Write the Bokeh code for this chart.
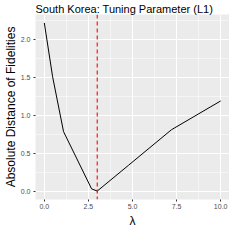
from bokeh.plotting import figure
from bokeh.models import FixedTicker, Span, NumeralTickFormatter, Range1d, Title
from bokeh.embed import file_html
from bokeh.resources import INLINE

lam = [0.0, 0.47, 1.09, 2.68, 3.0, 4.77, 7.21, 10.0]
dist = [2.22, 1.51, 0.785, 0.03, 0.0, 0.34, 0.81, 1.19]
best_lambda = 3.0
x_ticks = [0, 2.5, 5, 7.5, 10]
x_minor = [1.25, 3.75, 6.25, 8.75]
y_ticks = [0, 0.5, 1.0, 1.5, 2.0]
y_minor = [0.25, 0.75, 1.25, 1.75, 2.25]

FONT = "Liberation Sans"

p = figure(frame_width=194, frame_height=185, output_backend="svg", toolbar_location=None,
           x_range=Range1d(-0.5, 10.5), y_range=Range1d(-0.111, 2.331),
           title="South Korea: Tuning Parameter (L1)")
p.min_border_left = 0
p.min_border_right = 0
p.min_border_top = 0
p.min_border_bottom = 0
p.background_fill_color = "#EBEBEB"
p.border_fill_color = "white"
p.outline_line_color = None

p.title.text_font = FONT
p.title.text_font_size = "11px"
p.title.text_font_style = "normal"
p.title.text_color = "#000000"
p.title.offset = 0
p.title.standoff = 0

p.xaxis.ticker = FixedTicker(ticks=x_ticks, minor_ticks=x_minor)
p.yaxis.ticker = FixedTicker(ticks=y_ticks, minor_ticks=y_minor)
p.xaxis.formatter = NumeralTickFormatter(format="0.0")
p.yaxis.formatter = NumeralTickFormatter(format="0.0")
for ax in (p.xaxis, p.yaxis):
    ax.axis_line_color = None
    ax.major_tick_line_color = "#333333"
    ax.major_tick_out = 2
    ax.major_tick_in = 0
    ax.minor_tick_line_color = None
    ax.major_label_text_font = FONT
    ax.major_label_text_font_size = "7px"
    ax.major_label_text_color = "#4D4D4D"
    ax.axis_label_text_font = FONT
    ax.axis_label_text_font_size = "12px"
    ax.axis_label_text_font_style = "normal"
    ax.axis_label_text_color = "#000000"
    ax.major_label_standoff = 1
    ax.axis_label_standoff = 0
p.xaxis.major_label_standoff = 0
p.yaxis.axis_label = "Absolute Distance of Fidelities"

xlab = Title(text="λ", align="center", text_font=FONT, text_font_size="12px",
             text_font_style="normal", text_color="#000000", standoff=0)
p.add_layout(xlab, "below")

p.grid.grid_line_color = "white"
p.grid.grid_line_width = 1.1
p.grid.minor_grid_line_color = "white"
p.grid.minor_grid_line_width = 0.5

p.line(lam, dist, line_color="black", line_width=1)
p.add_layout(Span(location=best_lambda, dimension="height", line_color="#FF0000",
                  line_dash="4 3", line_width=1.1))

open("out.html", "w").write(file_html(p, INLINE))
